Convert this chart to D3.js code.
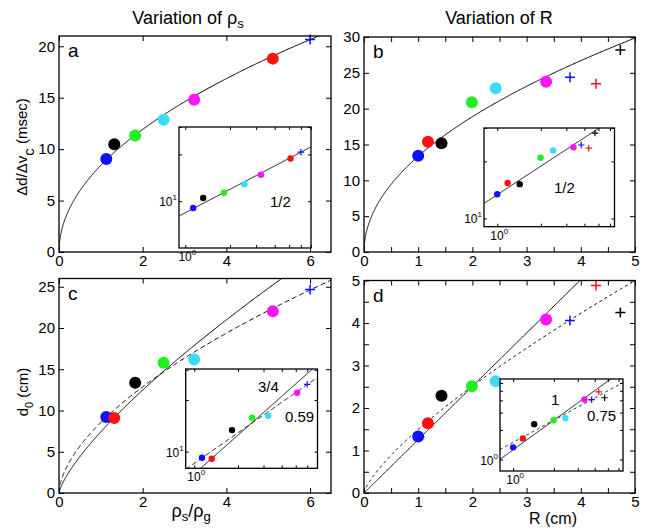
<!DOCTYPE html>
<html><head><meta charset="utf-8">
<script src="https://cdn.jsdelivr.net/npm/d3@7"></script>
<style>
body{margin:0;background:#fff}
text{font-family:"Liberation Sans",Arial,sans-serif;fill:#000}
</style>
</head><body>
<svg id="fig" width="650" height="531"></svg>
<script>
// ---------------- data ----------------
const rhoRatio   = [1.13, 1.32, 1.82, 2.50, 3.23, 5.11, 6.00];
const delayRho   = [9.04, 10.48, 11.32, 12.85, 14.80, 18.80, 20.65];
const colorsRhoA = ["blue","black","green","cyan","magenta","red","blue"];
const d0Rho      = [9.22, 9.10, 13.35, 15.78, 16.18, 22.04, 24.67];
const colorsRhoC = ["blue","red","black","green","cyan","magenta","blue"];
const markerRho  = ["o","o","o","o","o","o","+"];

const radiusR  = [1.00, 1.18, 1.43, 1.99, 2.43, 3.36, 3.80, 4.28, 4.73];
const delayR   = [13.43, 15.39, 15.17, 20.90, 22.86, 23.74, 24.40, 23.47, 28.20];
const d0R      = [1.33, 1.64, 2.29, 2.51, 2.63, 4.08, 4.06, 4.88, 4.25];
const colorsR  = ["blue","red","black","green","cyan","magenta","blue","red","black"];
const markerR  = ["o","o","o","o","o","o","+","+","+"];

// power-law fits: coefficient, exponent
const fitsA = [{coef: 8.43, exp: 0.5, dash: null}];
const fitsB = [{coef: 13.35, exp: 0.5, dash: null}];
const fitsC = [{coef: 7.42, exp: 0.75, dash: null}, {coef: 8.55, exp: 0.59, dash: "5,3"}];
const fitsD = [{coef: 1.255, exp: 1.0, dash: null}, {coef: 1.495, exp: 0.75, dash: "3,3"}];

const ticksXRho = [0, 2, 4, 6];
const ticksXR   = [0, 0.5, 1, 1.5, 2, 2.5, 3, 3.5, 4, 4.5, 5];
const ticksYA   = [0, 5, 10, 15, 20];
const ticksYB   = [0, 5, 10, 15, 20, 25, 30];
const ticksYC   = [0, 5, 10, 15, 20, 25];
const ticksYD   = [0, 0.5, 1, 1.5, 2, 2.5, 3, 3.5, 4, 4.5, 5];
const logTicksX = [1, 2, 3, 4, 5, 6, 7];
const logTicksY10 = [10, 20, 30];
const logTicksY1  = [1, 2, 3, 4, 5, 6];

const palette = {blue:"#1010ff", black:"#000000", green:"#22ee22", cyan:"#3cdcf8", magenta:"#ff14ff", red:"#ff1010"};

// ---------------- drawing ----------------
const svg = d3.select("#fig");
svg.append("rect").attr("width",650).attr("height",531).attr("fill","#fff");
let clipId = 0;

function drawMarkers(g, x, y, xs, ys, cols, marks, r, p, sw) {
  xs.forEach((xv, i) => {
    const cx = x(xv), cy = y(ys[i]), c = palette[cols[i]];
    if (marks[i] === "o") {
      g.append("circle").attr("cx",cx).attr("cy",cy).attr("r",r).attr("fill",c);
    } else {
      g.append("path").attr("d",`M${cx-p},${cy}H${cx+p}M${cx},${cy-p}V${cy+p}`)
        .attr("stroke",c).attr("stroke-width",sw).attr("fill","none");
    }
  });
}

function drawFits(g, x, y, fits, xmin, xmax, log, clip) {
  fits.forEach(f => {
    const pts = d3.range(0, 401).map(i => {
      const t = i / 400;
      const xv = log ? xmin * Math.pow(xmax / xmin, t) : xmax * t * t;
      return [xv, f.coef * Math.pow(xv, f.exp)];
    }).filter(d => d[1] > 0);
    g.append("path").datum(pts)
      .attr("d", d3.line().x(d => x(d[0])).y(d => y(d[1])))
      .attr("fill","none").attr("stroke","#000").attr("stroke-width",1)
      .attr("stroke-dasharray", f.dash).attr("clip-path", `url(#${clip})`);
  });
}

function addClip(l, t, w, h) {
  const id = "clip" + (clipId++);
  svg.append("clipPath").attr("id", id).append("rect")
    .attr("x", l).attr("y", t).attr("width", w).attr("height", h);
  return id;
}

function mainPanel(cfg) {
  const g = svg.append("g");
  const x = d3.scaleLinear().domain(cfg.xDomain).range([cfg.left, cfg.right]);
  const y = d3.scaleLinear().domain(cfg.yDomain).range([cfg.bottom, cfg.top]);
  const fmt = v => Number.isInteger(v) ? String(v) : "";
  const ax = (gen, tr) => {
    const a = g.append("g").attr("transform", tr).call(gen);
    a.select(".domain").remove();
    a.selectAll("line").attr("stroke","#000").attr("stroke-width",1);
    a.selectAll("text").style("font-size","15px").style("font-family",'"Liberation Sans",Arial,sans-serif');
    return a;
  };
  ax(d3.axisBottom(x).tickValues(cfg.xTicks).tickSize(-5).tickSizeOuter(0).tickPadding(3).tickFormat(fmt), `translate(0,${cfg.bottom})`);
  ax(d3.axisTop(x).tickValues(cfg.xTicks).tickSize(-5).tickSizeOuter(0).tickFormat(""), `translate(0,${cfg.top})`);
  ax(d3.axisLeft(y).tickValues(cfg.yTicks).tickSize(-5).tickSizeOuter(0).tickPadding(4).tickFormat(fmt), `translate(${cfg.left},0)`);
  ax(d3.axisRight(y).tickValues(cfg.yTicks).tickSize(-5).tickSizeOuter(0).tickFormat(""), `translate(${cfg.right},0)`);
  const clip = addClip(cfg.left, cfg.top, cfg.right - cfg.left, cfg.bottom - cfg.top);
  drawFits(g, x, y, cfg.fits, 0, cfg.xDomain[1], false, clip);
  drawMarkers(g, x, y, cfg.xs, cfg.ys, cfg.cols, cfg.marks, 6, 5, 1.5);
  g.append("rect").attr("x",cfg.left).attr("y",cfg.top)
    .attr("width",cfg.right-cfg.left).attr("height",cfg.bottom-cfg.top)
    .attr("fill","none").attr("stroke","#000").attr("stroke-width",1.3);
  g.append("text").attr("x",cfg.left+9).attr("y",cfg.top+21)
    .style("font-size","19px").text(cfg.letter);
  return g;
}

function insetPanel(cfg) {
  const g = svg.append("g");
  g.append("rect").attr("x",cfg.left).attr("y",cfg.top)
    .attr("width",cfg.right-cfg.left).attr("height",cfg.bottom-cfg.top).attr("fill","#fff");
  const x = d3.scaleLog().domain(cfg.xDomain).range([cfg.left, cfg.right]);
  const y = d3.scaleLog().domain(cfg.yDomain).range([cfg.bottom, cfg.top]);
  const ax = (gen, tr) => {
    const a = g.append("g").attr("transform", tr).call(gen);
    a.select(".domain").remove();
    a.selectAll("line").attr("stroke","#000").attr("stroke-width",1);
  };
  const xt = cfg.xTicks.filter(v => v >= cfg.xDomain[0] && v <= cfg.xDomain[1]);
  const yt = cfg.yTicks.filter(v => v >= cfg.yDomain[0] && v <= cfg.yDomain[1]);
  ax(d3.axisBottom(x).tickValues(xt).tickSize(-3).tickSizeOuter(0).tickFormat(""), `translate(0,${cfg.bottom})`);
  ax(d3.axisTop(x).tickValues(xt).tickSize(-3).tickSizeOuter(0).tickFormat(""), `translate(0,${cfg.top})`);
  ax(d3.axisLeft(y).tickValues(yt).tickSize(-3).tickSizeOuter(0).tickFormat(""), `translate(${cfg.left},0)`);
  ax(d3.axisRight(y).tickValues(yt).tickSize(-3).tickSizeOuter(0).tickFormat(""), `translate(${cfg.right},0)`);
  const clip = addClip(cfg.left, cfg.top, cfg.right - cfg.left, cfg.bottom - cfg.top);
  drawFits(g, x, y, cfg.fits, cfg.xDomain[0], cfg.xDomain[1], true, clip);
  drawMarkers(g, x, y, cfg.xs, cfg.ys, cfg.cols, cfg.marks, 3.2, 3.2, 1.2);
  g.append("rect").attr("x",cfg.left).attr("y",cfg.top)
    .attr("width",cfg.right-cfg.left).attr("height",cfg.bottom-cfg.top)
    .attr("fill","none").attr("stroke","#000").attr("stroke-width",1.3);
  // tick labels 10^n
  const tx = g.append("text").attr("x", x(1) + 2).attr("y", cfg.bottom + 13)
    .attr("text-anchor","middle").style("font-size","12px");
  tx.append("tspan").text("10");
  tx.append("tspan").attr("dy",-6).style("font-size","8px").text("0");
  const ty = g.append("text").attr("x", cfg.left - 2).attr("y", y(cfg.yLabelVal) + 5)
    .attr("text-anchor","end").style("font-size","12px");
  ty.append("tspan").text("10");
  ty.append("tspan").attr("dy",-6).style("font-size","8px").text(cfg.yLabelExp);
  cfg.notes.forEach(n => {
    g.append("text").attr("x", n.x).attr("y", n.y).style("font-size","15px").text(n.t);
  });
}

// ---- panel a ----
mainPanel({left:59, right:331, top:36, bottom:252, xDomain:[0,6.5], yDomain:[0,21],
  xTicks:ticksXRho, yTicks:ticksYA, fits:fitsA, xs:rhoRatio, ys:delayRho,
  cols:colorsRhoA, marks:markerRho, letter:"a"});
insetPanel({left:179, right:311, top:127, bottom:248, xDomain:[0.907,7.02], yDomain:[5,30],
  xTicks:logTicksX, yTicks:logTicksY10, fits:fitsA, xs:rhoRatio, ys:delayRho,
  cols:colorsRhoA, marks:markerRho, yLabelVal:10, yLabelExp:"1",
  notes:[{x:270, y:207, t:"1/2"}]});

// ---- panel b ----
mainPanel({left:364, right:635, top:37, bottom:252, xDomain:[0,5], yDomain:[0,30],
  xTicks:ticksXR, yTicks:ticksYB, fits:fitsB, xs:radiusR, ys:delayR,
  cols:colorsR, marks:markerR, letter:"b"});
insetPanel({left:484, right:614.5, top:128, bottom:226.7, xDomain:[0.81,6.45], yDomain:[9.05,30],
  xTicks:logTicksX, yTicks:logTicksY10, fits:fitsB, xs:radiusR, ys:delayR,
  cols:colorsR, marks:markerR, yLabelVal:10, yLabelExp:"1",
  notes:[{x:554, y:193, t:"1/2"}]});

// ---- panel c ----
mainPanel({left:59, right:331, top:278.5, bottom:493, xDomain:[0,6.5], yDomain:[0,26],
  xTicks:ticksXRho, yTicks:ticksYC, fits:fitsC, xs:rhoRatio, ys:d0Rho,
  cols:colorsRhoC, marks:markerRho, letter:"c"});
insetPanel({left:185.7, right:317.5, top:369, bottom:468.3, xDomain:[0.873,7.06], yDomain:[8,30.3],
  xTicks:logTicksX, yTicks:logTicksY10, fits:fitsC, xs:rhoRatio, ys:d0Rho,
  cols:colorsRhoC, marks:markerRho, yLabelVal:10, yLabelExp:"1",
  notes:[{x:258, y:392, t:"3/4"}, {x:285, y:422, t:"0.59"}]});

// ---- panel d ----
mainPanel({left:364, right:635, top:280.5, bottom:493, xDomain:[0,5], yDomain:[0,5],
  xTicks:ticksXR, yTicks:ticksYD, fits:fitsD, xs:radiusR, ys:d0R,
  cols:colorsR, marks:markerR, letter:"d"});
insetPanel({left:500, right:623, top:379, bottom:471, xDomain:[0.8,6.47], yDomain:[0.764,6.59],
  xTicks:logTicksX, yTicks:logTicksY1, fits:fitsD, xs:radiusR, ys:d0R,
  cols:colorsR, marks:markerR, yLabelVal:1, yLabelExp:"0",
  notes:[{x:551, y:405, t:"1"}, {x:587, y:421, t:"0.75"}]});

// ---- titles & axis labels ----
const t1 = svg.append("text").attr("x",188).attr("y",24).attr("text-anchor","middle").style("font-size","18px");
t1.append("tspan").text("Variation of \u03C1");
t1.append("tspan").attr("dy",4).style("font-size","13px").text("s");
svg.append("text").attr("x",499).attr("y",24).attr("text-anchor","middle").style("font-size","18px").text("Variation of R");

const yl1 = svg.append("text").attr("transform","translate(27,147) rotate(-90)").attr("text-anchor","middle").style("font-size","15px");
yl1.append("tspan").text("\u0394d/\u0394v");
yl1.append("tspan").attr("dy",7).text("c");
yl1.append("tspan").attr("dy",-7).text(" (msec)");

const yl2 = svg.append("text").attr("transform","translate(28,392) rotate(-90)").attr("text-anchor","middle").style("font-size","15px");
yl2.append("tspan").text("d");
yl2.append("tspan").attr("dy",5).style("font-size","11px").text("0");
yl2.append("tspan").attr("dy",-5).text(" (cm)");

const xl1 = svg.append("text").attr("x",191).attr("y",517).attr("text-anchor","middle").style("font-size","18px");
xl1.append("tspan").text("\u03C1");
xl1.append("tspan").attr("dy",4).style("font-size","13px").text("s");
xl1.append("tspan").attr("dy",-4).text("/\u03C1");
xl1.append("tspan").attr("dy",4).style("font-size","13px").text("g");

svg.append("text").attr("x",553).attr("y",524).attr("text-anchor","middle").style("font-size","16px").text("R (cm)");
</script>
</body></html>
